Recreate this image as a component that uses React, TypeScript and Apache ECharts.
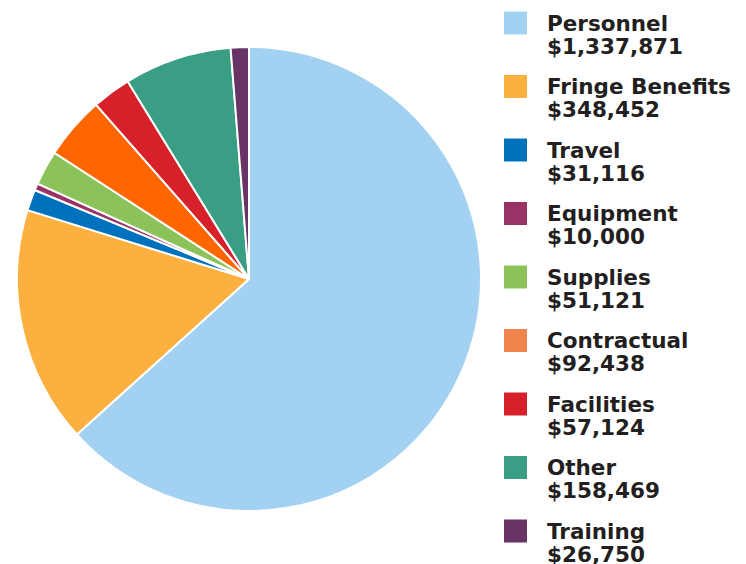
import React, { useEffect, useRef } from "react";
import * as echarts from "echarts";

const categories = ["Personnel", "Fringe Benefits", "Travel", "Equipment", "Supplies", "Contractual", "Facilities", "Other", "Training"];
const amounts = [1337871, 348452, 31116, 10000, 51121, 92438, 57124, 158469, 26750];
const sliceColors = ["#A2D1F1", "#FBB040", "#0071BC", "#993366", "#8BC25A", "#FF6600", "#D6202A", "#3A9E84", "#673465"];
const legendColors = ["#A2D1F1", "#FBB040", "#0071BC", "#993366", "#8BC25A", "#F0844A", "#D6202A", "#3A9E84", "#673465"];

const fmt = (v: number) => "$" + v.toLocaleString("en-US");

export default function App() {
  const ref = useRef<HTMLDivElement>(null);
  useEffect(() => {
    if (!ref.current) return;
    const chart = echarts.init(ref.current, null, { renderer: "svg" });
    const font = "DejaVu Sans";
    chart.setOption({
      animation: false,
      backgroundColor: "#ffffff",
      legend: {
        orient: "vertical",
        left: 502,
        top: -5,
        height: 700,
        width: 240,
        padding: 0,
        itemWidth: 25,
        itemHeight: 25,
        itemGap: 1.5,
        icon: "rect",
        selectedMode: false,
        data: categories.map((c, i) => ({ name: c, itemStyle: { color: legendColors[i] } })),
        formatter: (name: string) => {
          const i = categories.indexOf(name);
          return `{e| }\n{n|${name}}\n{v|${fmt(amounts[i])}}`;
        },
        textStyle: {
          padding: [0, 0, 0, 14],
          rich: {
            e: { fontSize: 10, lineHeight: 23 },
            n: { fontFamily: font, fontWeight: "bold", fontSize: 21.5, lineHeight: 23, color: "#231F20" },
            v: { fontFamily: font, fontWeight: "bold", fontSize: 21.5, lineHeight: 23, color: "#231F20" },
          },
        },
      },
      series: [
        {
          type: "pie",
          center: [249, 279],
          radius: [0, 232],
          startAngle: 90,
          clockwise: true,
          label: { show: false },
          labelLine: { show: false },
          emphasis: { disabled: true },
          itemStyle: { borderColor: "#ffffff", borderWidth: 2 },
          data: categories.map((c, i) => ({ name: c, value: amounts[i], itemStyle: { color: sliceColors[i] } })),
        },
      ],
    });
    return () => chart.dispose();
  }, []);
  return <div ref={ref} style={{ width: 746, height: 564, position: "absolute", left: 0, top: 0 }} />;
}
